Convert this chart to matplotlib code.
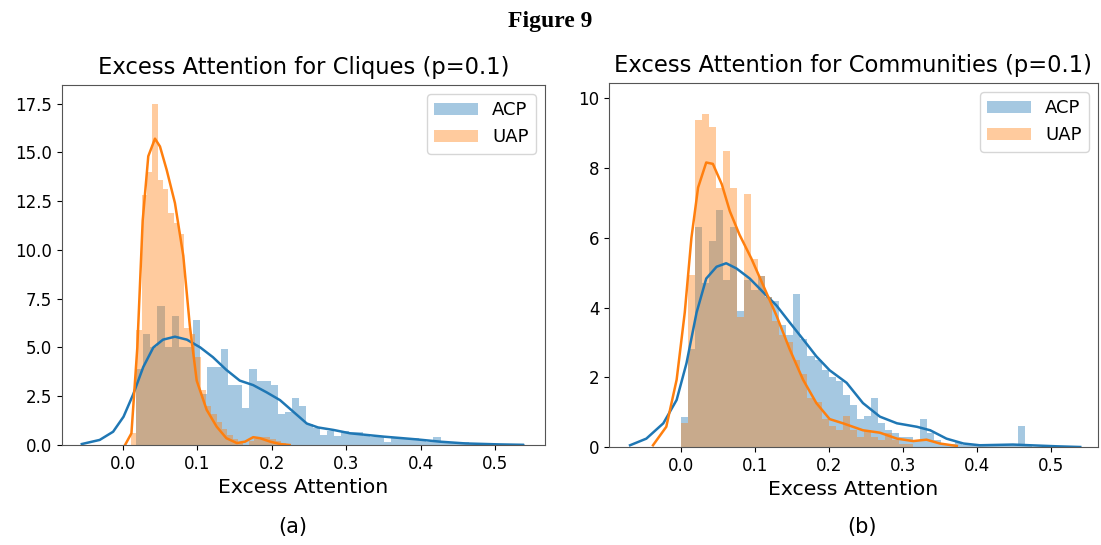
import numpy as np
import matplotlib.pyplot as plt

BLUE = '#1f77b4'
ORANGE = '#ff7f0e'

# ---------------- (a) cliques ----------------
a_acp_start, a_acp_width = 0.018, 0.0095
a_acp_heights = [3.9, 5.7, 5.0, 7.1, 5.0, 6.6, 5.0, 5.0, 6.4, 2.6,
                 4.0, 4.0, 4.9, 3.1, 3.1, 1.9, 3.9, 3.3, 3.3, 3.1,
                 1.6, 1.7, 2.4, 2.0, 1.1, 0.85, 0.5, 0.7, 0.45, 0.7,
                 0.68, 0.68, 0.45, 0.42, 0.45, 0.17, 0.35, 0.35, 0.35, 0.35,
                 0.3, 0.17, 0.39, 0.17, 0.17, 0.13, 0.13, 0.08, 0.05, 0.05,
                 0.05, 0.05, 0.05, 0.05, 0.04]
a_uap_start, a_uap_width = 0.0108, 0.0072
a_uap_heights = [0.6, 5.9, 12.8, 14.0, 17.5, 13.6, 13.1, 11.9, 11.4, 10.8,
                 6.0, 5.7, 4.5, 2.8, 2.0, 1.6, 1.2, 0.8, 0.5, 0.3,
                 0.1, 0.0, 0.2, 0.3, 0.4, 0.4, 0.3, 0.2, 0.1]

a_acp_kde_x = [-0.055, -0.031, -0.013, 0.001, 0.014, 0.0275, 0.041, 0.054, 0.070,
               0.086, 0.104, 0.121, 0.139, 0.157, 0.175, 0.193, 0.211, 0.229,
               0.247, 0.262, 0.283, 0.305, 0.35, 0.394, 0.426, 0.46, 0.506, 0.537]
a_acp_kde_y = [0.05, 0.26, 0.68, 1.45, 2.6, 4.0, 5.0, 5.4, 5.55,
               5.4, 5.0, 4.5, 3.85, 3.3, 3.07, 2.7, 2.3, 1.7,
               1.1, 0.9, 0.77, 0.6, 0.43, 0.29, 0.17, 0.08, 0.03, 0.01]
a_uap_kde_x = [0.003, 0.0116, 0.0195, 0.0267, 0.0342, 0.0432, 0.0499, 0.0589, 0.070,
               0.0812, 0.090, 0.0992, 0.1126, 0.126, 0.139, 0.153, 0.164, 0.175,
               0.184, 0.198, 0.211, 0.224]
a_uap_kde_y = [0.0, 0.6, 5.0, 11.5, 14.8, 15.7, 15.3, 14.1, 12.4,
               9.7, 6.1, 3.3, 1.8, 0.94, 0.35, 0.1, 0.17, 0.4,
               0.35, 0.17, 0.05, 0.0]

# ---------------- (b) communities ----------------
b_acp_start, b_acp_width = 0.0, 0.0095
b_acp_heights = [0.87, 2.8, 6.3, 4.7, 5.9, 6.8, 4.8, 6.3, 3.9, 4.8,
                 4.5, 4.9, 4.3, 4.2, 3.5, 3.2, 4.4, 3.1, 2.6, 2.5,
                 2.2, 2.0, 1.9, 1.5, 1.2, 0.8, 0.9, 1.4, 0.7, 0.5,
                 0.4, 0.3, 0.3, 0.2, 0.8, 0.4, 0.2, 0.1, 0.1, 0.15,
                 0.05, 0.05, 0.05, 0.05, 0.05, 0.05, 0.05, 0.05, 0.6, 0.05]
b_uap_start, b_uap_width = 0.0, 0.0095
b_uap_heights = [0.68, 4.93, 9.37, 9.55, 9.18, 7.44, 8.48, 7.44, 3.72, 7.25,
                 5.4, 4.9, 4.3, 3.6, 3.2, 3.0, 2.5, 2.1, 1.4, 1.3,
                 0.8, 0.6, 0.5, 0.9, 0.5, 0.3, 0.5, 0.3, 0.2, 0.4,
                 0.2, 0.1, 0.1]

b_acp_kde_x = [-0.069, -0.047, -0.024, -0.006, 0.0073, 0.021, 0.034, 0.048, 0.061,
               0.075, 0.093, 0.111, 0.129, 0.147, 0.165, 0.183, 0.201, 0.224,
               0.246, 0.269, 0.292, 0.319, 0.337, 0.359, 0.382, 0.404, 0.449,
               0.472, 0.508, 0.54]
b_acp_kde_y = [0.05, 0.24, 0.68, 1.35, 2.4, 3.86, 4.83, 5.17, 5.27,
               5.12, 4.83, 4.44, 4.06, 3.57, 3.09, 2.6, 2.2, 1.84,
               1.26, 0.87, 0.68, 0.58, 0.48, 0.24, 0.1, 0.05, 0.07,
               0.05, 0.02, 0.0]
b_uap_kde_x = [-0.038, -0.02, -0.006, 0.005, 0.014, 0.023, 0.034, 0.043, 0.055,
               0.066, 0.079, 0.095, 0.111, 0.129, 0.147, 0.165, 0.183, 0.201,
               0.219, 0.246, 0.269, 0.292, 0.314, 0.332, 0.35, 0.373]
b_uap_kde_y = [0.05, 0.58, 1.93, 3.86, 6.0, 7.44, 8.16, 8.12, 7.54,
               6.76, 6.09, 5.41, 4.64, 3.77, 2.8, 1.93, 1.26, 0.8,
               0.68, 0.48, 0.41, 0.24, 0.17, 0.21, 0.1, 0.03]


def draw_panel(ax, series, title, xlim, ylim, yticks, ytick_fmt):
    for start, width, heights, kx, ky, color, label in series:
        edges = start + width * np.arange(len(heights))
        ax.bar(edges, heights, width=width, align='edge', color=color,
               alpha=0.4, linewidth=0, label=label)
        ax.plot(kx, ky, color=color, lw=1.8)
    ax.set_xlim(*xlim)
    ax.set_ylim(*ylim)
    ax.set_xticks([0.0, 0.1, 0.2, 0.3, 0.4, 0.5])
    ax.set_yticks(yticks)
    ax.set_yticklabels([ytick_fmt.format(t) for t in yticks])
    ax.tick_params(labelsize=12)
    ax.set_title(title, fontsize=16.3, pad=8)
    ax.set_xlabel('Excess Attention', fontsize=14.7)
    ax.legend(loc='upper right', fontsize=13, handlelength=2.4)
    for s in ax.spines.values():
        s.set_color('#555555')


fig = plt.figure(figsize=(11.01, 5.45), dpi=100)
ax1 = fig.add_axes([62 / 1101, 1 - 445 / 545, 483 / 1101, 360 / 545])
ax2 = fig.add_axes([609 / 1101, 1 - 447 / 545, 489 / 1101, 364 / 545])

draw_panel(ax1,
           [(a_acp_start, a_acp_width, a_acp_heights, a_acp_kde_x, a_acp_kde_y, BLUE, 'ACP'),
            (a_uap_start, a_uap_width, a_uap_heights, a_uap_kde_x, a_uap_kde_y, ORANGE, 'UAP')],
           'Excess Attention for Cliques (p=0.1)', (-0.0816, 0.5667), (0, 18.45),
           [0, 2.5, 5, 7.5, 10, 12.5, 15, 17.5], '{:.1f}')
draw_panel(ax2,
           [(b_acp_start, b_acp_width, b_acp_heights, b_acp_kde_x, b_acp_kde_y, BLUE, 'ACP'),
            (b_uap_start, b_uap_width, b_uap_heights, b_uap_kde_x, b_uap_kde_y, ORANGE, 'UAP')],
           'Excess Attention for Communities (p=0.1)', (-0.0975, 0.564), (0, 10.44),
           [0, 2, 4, 6, 8, 10], '{:.0f}')

fig.text(0.5, 1 - 22 / 545, 'Figure 9', ha='center', va='center',
         fontsize=17, fontweight='bold', family='Liberation Serif')
fig.text(293 / 1101, 1 - 527 / 545, '(a)', ha='center', va='center', fontsize=15)
fig.text(862 / 1101, 1 - 527 / 545, '(b)', ha='center', va='center', fontsize=15)

fig.savefig('out.png', dpi=100)
